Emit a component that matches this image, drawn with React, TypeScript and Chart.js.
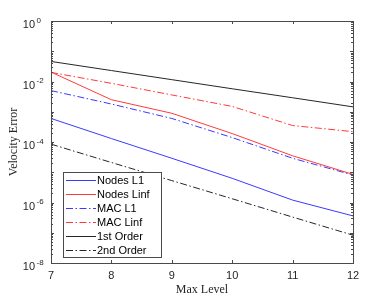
import React, { useEffect, useRef } from "react";
import { Chart, registerables } from "chart.js";

Chart.register(...registerables);

const levels = [7, 8, 9, 10, 11, 12];
const nodesL1 = [6.0e-4, 1.3e-4, 2.9e-5, 6.3e-6, 1.2e-6, 3.6e-7];
const nodesLinf = [0.0205, 0.0025, 8.9e-4, 1.9e-4, 3.5e-5, 8.5e-6];
const macL1 = [0.005, 0.0018, 6.0e-4, 1.4e-4, 2.9e-5, 8.1e-6];
const macLinf = [0.02, 0.0087, 0.0036, 0.0015, 3.5e-4, 2.2e-4];
const firstOrder = [0.046, 0.023, 0.0115, 0.00575, 0.0029, 0.00145];
const secondOrder = [8.5e-5, 2.1e-5, 5.3e-6, 1.33e-6, 3.3e-7, 8.3e-8];

const seriesLabels = ["Nodes L1", "Nodes Linf", "MAC L1", "MAC Linf", "1st Order", "2nd Order"];
const xTicks = [7, 8, 9, 10, 11, 12];
const yExponents = [0, -2, -4, -6, -8];
const xTitle = "Max Level";
const yTitle = "Velocity Error";

const BLUE = "#3a3aff";
const RED = "#ff3a3a";
const BLACK = "#262626";
const DASHDOT = [7, 2.5, 1.5, 2.5];

const axesPlugin = {
  id: "matlabAxes",
  afterDraw(chart: any) {
    const ctx = chart.ctx as CanvasRenderingContext2D;
    const { left, right, top, bottom } = chart.chartArea;
    const xs = chart.scales.x;
    const ys = chart.scales.y;
    ctx.save();
    ctx.strokeStyle = "#4a4a4a";
    ctx.lineWidth = 1;
    ctx.setLineDash([]);
    // box
    ctx.strokeRect(left + 0.5, top + 0.5, right - left, bottom - top);
    // x ticks
    ctx.beginPath();
    for (const t of xTicks) {
      const px = Math.round(xs.getPixelForValue(t)) + 0.5;
      ctx.moveTo(px, bottom);
      ctx.lineTo(px, bottom - 3);
      ctx.moveTo(px, top);
      ctx.lineTo(px, top + 3);
    }
    // y ticks
    for (let e = 0; e >= -8; e--) {
      const py = Math.round(ys.getPixelForValue(Math.pow(10, e))) + 0.5;
      ctx.moveTo(left, py);
      ctx.lineTo(left + 3, py);
      ctx.moveTo(right, py);
      ctx.lineTo(right - 3, py);
      if (e > -8) {
        for (let m = 2; m <= 9; m++) {
          const pm = Math.round(ys.getPixelForValue(m * Math.pow(10, e - 1))) + 0.5;
          ctx.moveTo(left, pm);
          ctx.lineTo(left + 2, pm);
          ctx.moveTo(right, pm);
          ctx.lineTo(right - 2, pm);
        }
      }
    }
    ctx.stroke();

    // tick labels
    ctx.fillStyle = "#262626";
    ctx.font = "11px 'Liberation Sans', Arial, sans-serif";
    ctx.textAlign = "center";
    ctx.textBaseline = "middle";
    for (const t of xTicks) {
      ctx.fillText(String(t), xs.getPixelForValue(t), bottom + 13);
    }
    for (const e of yExponents) {
      const py = ys.getPixelForValue(Math.pow(10, e));
      ctx.font = "11px 'Liberation Sans', Arial, sans-serif";
      ctx.textAlign = "right";
      ctx.fillText("10", 35, py + 4);
      ctx.font = "8px 'Liberation Sans', Arial, sans-serif";
      ctx.textAlign = "left";
      ctx.fillText(String(e).replace("-", "-"), 36.5, py - 0.5);
    }

    // axis titles
    ctx.font = "12px 'Liberation Serif', 'Times New Roman', serif";
    ctx.textAlign = "center";
    ctx.fillText(xTitle, (left + right) / 2, bottom + 27);
    ctx.save();
    ctx.translate(14, (top + bottom) / 2);
    ctx.rotate(-Math.PI / 2);
    ctx.fillText(yTitle, 0, 0);
    ctx.restore();

    // legend
    const lx = 63.5, ly = 172.5, lw = 98, lh = 85;
    ctx.fillStyle = "#ffffff";
    ctx.fillRect(lx, ly, lw, lh);
    ctx.strokeStyle = "#4a4a4a";
    ctx.strokeRect(lx, ly, lw, lh);
    const rowY = [180, 194, 208, 222, 236, 250];
    chart.data.datasets.forEach((ds: any, i: number) => {
      const y = rowY[i] + 0.5;
      ctx.beginPath();
      ctx.strokeStyle = ds.borderColor;
      ctx.lineWidth = 1;
      ctx.setLineDash(ds.borderDash || []);
      ctx.moveTo(66, y);
      ctx.lineTo(96, y);
      ctx.stroke();
      ctx.setLineDash([]);
      ctx.fillStyle = "#000";
      ctx.font = "11px 'Liberation Sans', Arial, sans-serif";
      ctx.textAlign = "left";
      ctx.textBaseline = "middle";
      ctx.fillText(ds.label, 97, y + 0.5);
    });
    ctx.restore();
  },
};

export default function App() {
  const ref = useRef<HTMLCanvasElement | null>(null);
  useEffect(() => {
    if (!ref.current) return;
    const mk = (label: string, data: number[], color: string, dash: number[]) => ({
      label,
      data: levels.map((x, i) => ({ x, y: data[i] })),
      borderColor: color,
      backgroundColor: color,
      borderWidth: 1,
      borderDash: dash,
      pointRadius: 0,
      fill: false,
      tension: 0,
    });
    const chart = new Chart(ref.current, {
      type: "line",
      data: {
        datasets: [
          mk(seriesLabels[0], nodesL1, BLUE, []),
          mk(seriesLabels[1], nodesLinf, RED, []),
          mk(seriesLabels[2], macL1, BLUE, DASHDOT),
          mk(seriesLabels[3], macLinf, RED, DASHDOT),
          mk(seriesLabels[4], firstOrder, BLACK, []),
          mk(seriesLabels[5], secondOrder, BLACK, DASHDOT),
        ],
      },
      options: {
        responsive: false,
        animation: false,
        layout: { padding: { left: 51, top: 21, right: 37, bottom: 35 } },
        plugins: { legend: { display: false }, tooltip: { enabled: false } },
        scales: {
          x: { type: "linear", min: 7, max: 12, display: false },
          y: { type: "logarithmic", min: 1e-8, max: 1, display: false },
        },
      },
      plugins: [axesPlugin],
    });
    return () => chart.destroy();
  }, []);
  return (
    <div style={{ position: "fixed", left: 0, top: 0, width: 390, height: 298, background: "#fff" }}>
      <canvas ref={ref} width={390} height={298} style={{ display: "block" }} />
    </div>
  );
}
